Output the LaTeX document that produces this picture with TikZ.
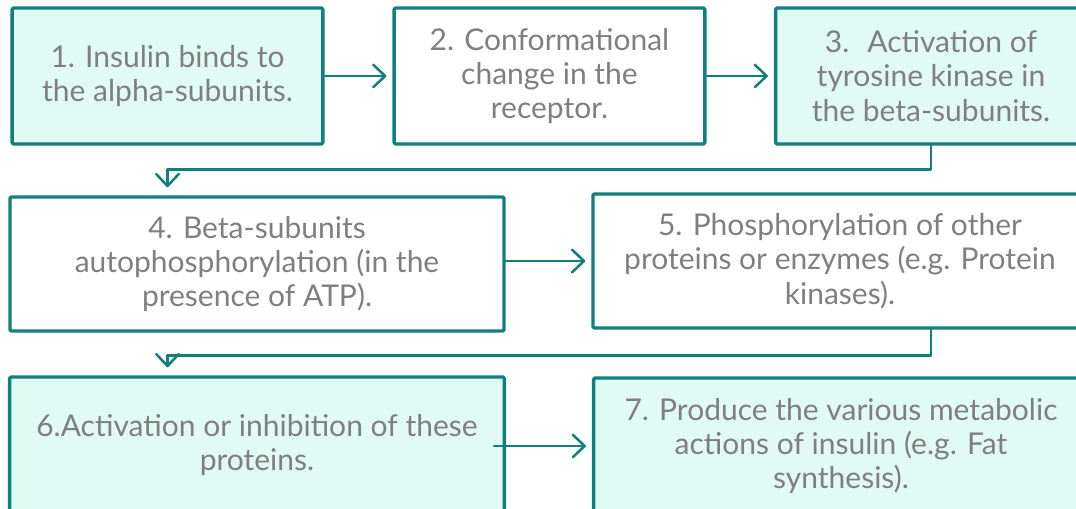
\documentclass[tikz,border=0pt]{standalone}
\usepackage{fontspec}
\setmainfont{Lato}
\usetikzlibrary{arrows.meta}
\definecolor{tealline}{RGB}{15,128,122}
\definecolor{mintfill}{RGB}{224,251,243}
\definecolor{greytext}{RGB}{127,127,127}
\begin{document}
\begin{tikzpicture}[x=0.75pt, y=-0.75pt, font=\fontsize{22.5}{25.8}\selectfont, line join=round, line cap=round,
	>={Straight Barb[length=9pt, width=17pt, round]},
	stepbox/.style={draw=tealline, line width=2.6pt, rounded corners=1pt, text=greytext, align=center, inner sep=0pt},
	stepfill/.style={stepbox, fill=mintfill},
	rowA/.style={minimum width=233pt, minimum height=102pt},
	rowB/.style={minimum width=370.5pt, minimum height=100.5pt},
	rowC/.style={minimum width=371pt, minimum height=102pt},
	conn/.style={draw=tealline, line width=1.9pt, ->, shorten >=4.5pt}]
	\useasboundingbox (0,0) rectangle (1076,509);
	\clip (0,0) rectangle (1076,509);
	% first row
	\node[stepfill, rowA] (b1) at (167.5,76) {1. Insulin binds to\\the alpha-subunits.};
	\node[stepbox, rowA] (b2) at (549.5,76) {2. Conformational\\change in the\\receptor.};
	\node[stepfill, rowA] (b3) at (931,76) {3.~ Activation of\\tyrosine kinase in\\the beta-subunits.};
	% second row
	\node[stepbox, rowB] (b4) at (257,264) {4. Beta-subunits\\autophosphorylation (in the\\presence of ATP).};
	\node[stepbox, rowB] (b5) at (840,261) {5. Phosphorylation of other\\proteins or enzymes (e.g. Protein\\kinases).};
	% third row
	\node[stepfill, rowC] (b6) at (257,445) {6.Activation or inhibition of these\\proteins.};
	\node[stepfill, rowC] (b7) at (841,446) {7. Produce the various metabolic\\actions of insulin (e.g. Fat\\synthesis).};
	% connectors
	\draw[conn] (b1.east) -- (b2.west);
	\draw[conn] (b2.east) -- (b3.west);
	\draw[conn, shorten >=6pt] (b3.south) -- ++(0,24) -| (b4.north -| b1.south);
	\draw[conn] (b4.east |- b5.west) -- (b5.west);
	\draw[conn, shorten >=6pt] (b5.south -| b3.south) -- ++(0,26) -| (b6.north -| b1.south);
	\draw[conn, shorten <=-9pt] (b6.east |- b7.west) -- (b7.west);
\end{tikzpicture}
\end{document}
